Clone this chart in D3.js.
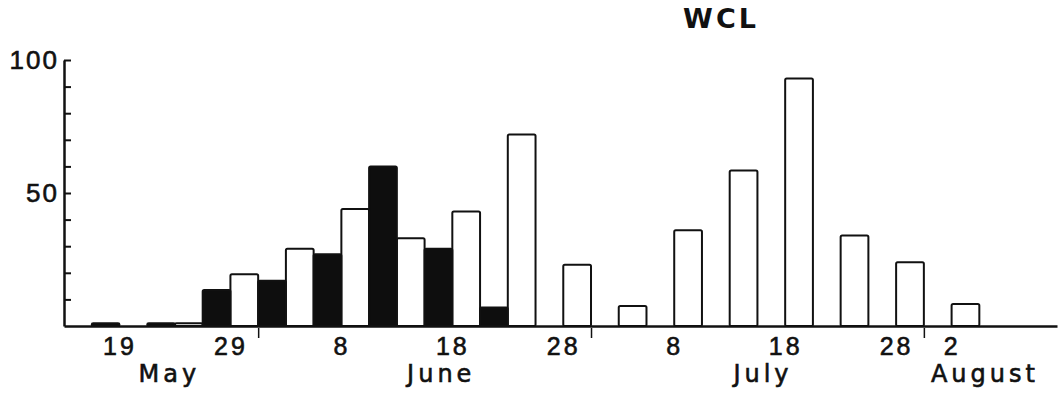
<!DOCTYPE html>
<html>
<head>
<meta charset="utf-8">
<script src="https://cdn.jsdelivr.net/npm/d3@7"></script>
<style>
    body { margin: 0; background: #fff; }
    svg { display: block; font-family: "DejaVu Sans", sans-serif; }
    .axis path, .axis line { stroke: #111; }
    .axis text, .month { fill: #111; stroke: #111; stroke-width: 0.6px; }
</style>
</head>
<body>
<div id="chart"></div>
<script>
// WCL catches per 5-day period (dark = first half, light = second half)
const title = "WCL";
const year = 1981;
const periodStarts = [[5, 17], [5, 22], [5, 27], [6, 1], [6, 6], [6, 11], [6, 16], [6, 21],
    [6, 26], [7, 1], [7, 6], [7, 11], [7, 16], [7, 21], [7, 26], [7, 31]];
const darkValues = [1, 1, 13.5, 17, 27, 60, 29, 7, 0, 0, 0, 0, 0, 0, 0, 0];
const lightValues = [0, 1, 19.5, 29, 44, 33, 43, 72, 23, 7.5, 36, 58.5, 93, 34, 24, 8.3];

const dayTicks = [[5, 19], [5, 29], [6, 8], [6, 18], [6, 28], [7, 8], [7, 18], [7, 28], [8, 2]];
const monthBreaks = [[6, 1], [7, 1], [7, 31]];
const monthNames = ["May", "June", "July", "August"];
const monthNameDates = [[5, 24], [6, 17, 12], [7, 16, 12], [8, 5, 12]];
const yTickValues = [10, 20, 30, 40, 50, 60, 70, 80, 90, 100];
const yLabelValues = [50, 100];

const DAY = 864e5;
const toDate = d => new Date(Date.UTC(year, d[0] - 1, d[1], d[2] || 0));

const margin = { top: 60, right: 1, bottom: 70, left: 64 },
    width = 1058 - margin.left - margin.right,
    height = 396 - margin.top - margin.bottom;

const svg = d3.select("#chart")
    .append("svg")
    .attr("width", 1058)
    .attr("height", 396);

const group = svg.append("g")
    .attr("transform", `translate(${margin.left},${margin.top})`);

const x = d3.scaleUtc()
    .domain([new Date(Date.UTC(year, 4, 14, 12)), new Date(Date.UTC(year, 7, 12))])
    .range([0, width]);

const y = d3.scaleLinear()
    .domain([0, 100])
    .range([height, 0]);

const bars = [];
periodStarts.forEach((p, i) => {
    const s = +toDate(p);
    if (lightValues[i] > 0) bars.push({ x0: s + 2.5 * DAY, x1: s + 5 * DAY, v: lightValues[i], dark: false });
    if (darkValues[i] > 0) bars.push({ x0: s, x1: s + 2.5 * DAY, v: darkValues[i], dark: true });
});

group.selectAll(".bar")
    .data(bars)
    .join("rect")
    .attr("class", "bar")
    .attr("x", d => x(d.x0))
    .attr("y", d => y(d.v))
    .attr("width", d => x(d.x1) - x(d.x0))
    .attr("height", d => y(0) - y(d.v))
    .attr("rx", 1.5)
    .style("fill", d => d.dark ? "#0e0e0e" : "#fff")
    .style("stroke", "#111")
    .style("stroke-width", 2);

// y axis, ticks pointing inwards
const yAxis = d3.axisLeft(y)
    .tickValues(yTickValues)
    .tickSize(-7)
    .tickSizeOuter(0)
    .tickPadding(5)
    .tickFormat(d => yLabelValues.includes(d) ? d : "");

const yDisplay = group.append("g")
    .attr("class", "axis y-axis")
    .call(yAxis);
yDisplay.select(".domain").style("stroke-width", 2.5);
yDisplay.selectAll(".tick line").style("stroke-width", 2);
yDisplay.selectAll("text")
    .style("font-size", "26px")
    .style("letter-spacing", "2px");

// x axis: baseline with day labels
const xAxis = d3.axisBottom(x)
    .tickValues(dayTicks.map(d => new Date(+toDate(d) + 0.5 * DAY)))
    .tickSize(0)
    .tickSizeOuter(0)
    .tickPadding(11)
    .tickFormat(d => d.getUTCDate());

const xDisplay = group.append("g")
    .attr("class", "axis x-axis")
    .attr("transform", `translate(0,${height})`)
    .call(xAxis);
xDisplay.select(".domain").style("stroke-width", 2.5);
xDisplay.selectAll("text")
    .style("font-size", "25px")
    .style("letter-spacing", "3px");

// month break marks
const breakAxis = d3.axisBottom(x)
    .tickValues(monthBreaks.map(toDate))
    .tickSize(10)
    .tickFormat("");

const breakDisplay = group.append("g")
    .attr("class", "axis")
    .attr("transform", `translate(0,${height + 2})`)
    .call(breakAxis);
breakDisplay.select(".domain").remove();
breakDisplay.selectAll(".tick line").style("stroke-width", 1.5);

// month names
group.selectAll(".month")
    .data(monthNames)
    .join("text")
    .attr("class", "month")
    .attr("x", (d, i) => x(toDate(monthNameDates[i])))
    .attr("y", height + 56)
    .attr("text-anchor", "middle")
    .style("font-size", "24px")
    .style("letter-spacing", "4px")
    .text(d => d);

svg.append("text")
    .attr("x", 721)
    .attr("y", 28)
    .attr("text-anchor", "middle")
    .style("font-size", "27px")
    .style("font-weight", "bold")
    .style("letter-spacing", "3px")
    .style("fill", "#111")
    .text(title);
</script>
</body>
</html>
